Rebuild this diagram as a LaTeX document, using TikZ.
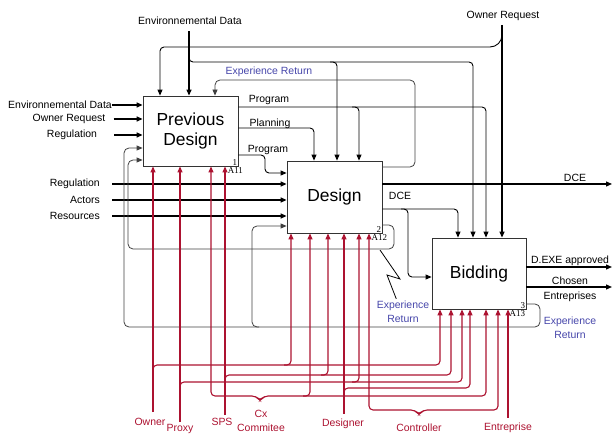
\documentclass[tikz,border=0pt]{standalone}
\usepackage{fontspec}
\setmainfont{Liberation Sans}
\newfontfamily\numfont{Liberation Serif}
\usetikzlibrary{arrows.meta, positioning, calc}

\definecolor{mechred}{RGB}{172,18,48}
\definecolor{erblue}{RGB}{70,70,170}

\begin{document}
\begin{tikzpicture}[x=1bp, y=-1bp,
  font=\fontsize{10.5}{14.5}\selectfont,
  func/.style={rectangle, draw=black!80, line width=0.8bp, fill=white,
               minimum width=95bp, minimum height=71bp, align=center,
               inner sep=0pt, font=\fontsize{17.5}{21}\selectfont},
  numtag/.style={inner sep=1bp, font=\numfont\fontsize{9}{10}\selectfont},
  lbl/.style={inner sep=0pt, align=center},
  ertext/.style={lbl, text=erblue},
  mlbl/.style={lbl, text=mechred},
  arr/.style={-{Triangle[length=6bp,width=5bp]}},
  both/.style={{Triangle[length=6bp,width=5bp]}-{Triangle[length=6bp,width=5bp]}},
  flow/.style={arr, line width=1.3bp},
  ctrl/.style={arr, line width=0.9bp, rounded corners=4bp},
  back/.style={line width=0.8bp, draw=black!75, rounded corners=5bp},
  mech/.style={line width=1.1bp, color=mechred, rounded corners=4bp},
]
\useasboundingbox (0,0) rectangle (612,436);

% ---- activities ----
\node[func, minimum height=70bp] (pd) at (190.5,131) {Previous\\Design};
\node[func, minimum height=72bp] (ds) at (334.5,197) {Design};
\node[func, minimum width=94bp]  (bd) at (479,273.5) {Bidding};

\node[numtag, anchor=south east] at (pd.south east) {1};
\node[numtag, anchor=north] at ([xshift=-3bp]pd.south east) {A11};
\node[numtag, anchor=south east] at (ds.south east) {2};
\node[numtag, anchor=north] at ([xshift=-3bp]ds.south east) {A12};
\node[numtag, anchor=south east] at (bd.south east) {3};
\node[numtag, anchor=north] at ([xshift=-9bp]bd.south east) {A13};

% ---- inputs ----
\node[lbl] (envIn) at (60,105) {Environnemental Data};
\node[lbl] (ownIn) at (69,119) {Owner Request};
\node[lbl] (regIn) at (72,135) {Regulation};
\node[lbl, anchor=east] (regD) at (100,184) {Regulation};
\node[lbl, anchor=east] (actD) at (100,200) {Actors};
\node[lbl, anchor=east] (resD) at (100,216) {Resources};

\draw[flow] (envIn.east) -- (pd.west |- envIn);
\draw[flow] (ownIn.east) ++(8,0) -- (pd.west |- ownIn);
\draw[flow] (regIn.east) ++(17,0) -- (pd.west |- regIn);
\draw[flow] (regD.east) ++(12,0) -- (ds.west |- regD);
\draw[flow] (actD.east) ++(12,0) -- (ds.west |- actD);
\draw[flow] (resD.east) ++(12,0) -- (ds.west |- resD);

% ---- controls ----
\node[lbl] (envTop) at (190,21) {Environnemental Data};
\node[lbl] (ownTop) at (503,16) {Owner Request};

\draw[ctrl, line width=1.2bp, shorten <=6bp] (envTop.south -| 189,0) -- (pd.north -| 189,0);
\draw[ctrl] (189,55) -- (189,62) -- (473,62) -- (bd.north -| 473,0);
\draw[ctrl] (330,62) -- (337,62) -- (ds.north -| 337,0);
\draw[ctrl, line width=1.2bp, shorten <=4bp] (ownTop.south -| 502,0) -- (bd.north -| 502,0);
\draw[ctrl] (502,34) [rounded corners=12bp] -- (502,47) [rounded corners=4bp] -- (160,47) -- (pd.north -| 160,0);

% ---- previous design outputs ----
\node[lbl] at (269,100) {Program};
\node[lbl] at (270,124) {Planning};
\node[lbl] at (268,150) {Program};
\draw[ctrl] (pd.east |- 0,107) -- (486,107) -- (bd.north -| 486,0);
\draw[ctrl] (352,107) -- (359,107) -- (ds.north -| 359,0);
\draw[ctrl] (pd.east |- 0,128) -- (314,128) -- (ds.north -| 314,0);
\draw[ctrl] (pd.east |- 0,155) -- (265,155) -- (265,173) -- (ds.west |- 0,173);

% ---- design outputs ----
\coordinate (dceOut) at (612,184);
\node[lbl] at (575,178) {DCE};
\node[lbl] at (400,196) {DCE};
\draw[flow] (ds.east |- dceOut) -- (dceOut);
\draw[ctrl] (ds.east |- 0,209) -- (458,209) -- (bd.north -| 458,0);
\draw[ctrl] (401,209) -- (408,209) -- (408,277) -- (bd.west |- 0,277);

% ---- bidding outputs ----
\coordinate (dexeOut) at (612,267);
\coordinate (chosenOut) at (612,287);
\node[lbl] at (570,261) {D.EXE approved};
\node[lbl] at (570,289.5) {Chosen\\Entreprises};
\draw[flow] (bd.east |- dexeOut) -- (dexeOut);
\draw[flow] (bd.east |- chosenOut) -- (chosenOut);

% ---- experience return ----
\node[ertext] at (269,72) {Experience Return};
\node[ertext] (erD) at (403,312) {Experience\\Return};
\node[ertext] at (570,328) {Experience\\Return};

\draw[back, arr] (ds.east |- 0,167) -- (415,167) -- (415,80) -- (215,80) -- (pd.north -| 215,0);
\draw[back, arr] (ds.east |- 0,225) -- (394,225) -- (394,249) -- (128,249) -- (128,160) -- (pd.west |- 0,160);
\draw[back, arr] (bd.east |- 0,304) -- (540,304) -- (540,327) -- (124,327) -- (124,148) -- (pd.west |- 0,148);
\draw[back, arr] (259,327) -- (252,327) -- (252,226) -- (ds.west |- 0,226);
\draw[line width=0.8bp, shorten >=2bp] (380,250) -- (400,279) -- (387,275) -- (397,0 |- erD.north);

% ---- mechanisms ----
\node[mlbl] (ownerM) at (150,422) {Owner};
\node[mlbl] (proxyM) at (180,429) {Proxy};
\node[mlbl] (spsM)   at (222,422) {SPS};
\node[mlbl] (cxM)    at (261,421) {Cx\\Commitee};
\node[mlbl] (desM)   at (343,424) {Designer};
\node[mlbl] (conM)   at (419,428) {Controller};
\node[mlbl] (entM)   at (508,428) {Entreprise};

\draw[mech, arr, shorten <=6bp] (ownerM.north -| 153,0) -- (pd.south -| 153,0);
\draw[mech, arr] (153,372) -- (153,365) -- (440,365) -- (bd.south -| 440,0);
\draw[mech, arr] (284,365) -- (291,365) -- (ds.south -| 291,0);

\draw[mech, arr, shorten <=2bp] (proxyM.north -| 180,0) -- (pd.south -| 180,0);
\draw[mech, arr] (180,390) -- (180,382) -- (462,382) -- (bd.south -| 462,0);
\draw[mech, arr] (352,382) -- (359,382) -- (ds.south -| 359,0);

\draw[mech, arr, shorten <=3bp] (spsM.north -| 225,0) -- (pd.south -| 225,0);
\draw[mech, arr] (225,382) -- (225,375) -- (451,375) -- (bd.south -| 451,0);
\draw[mech, arr] (321,375) -- (328,375) -- (ds.south -| 328,0);

\draw[mech, both] (pd.south -| 211,0) -- (211,396) -- (256,396) -- (260,401)
  -- (264,396) -- (486,396) -- (bd.south -| 486,0);
\draw[mech, arr] (303,396) -- (310,396) -- (ds.south -| 310,0);

\draw[mech, arr, shorten <=5bp] (desM.north -| 344,0) -- (ds.south -| 344,0);
\draw[mech, arr] (344,395) -- (344,388) -- (470,388) -- (bd.south -| 470,0);

\draw[mech, both] (ds.south -| 369,0) -- (369,410) -- (415,410) -- (419,415)
  -- (423,410) -- (498,410) -- (bd.south -| 498,0);

\draw[mech, arr, shorten <=5bp] (entM.north -| 508,0) -- (bd.south -| 508,0);

\end{tikzpicture}
\end{document}
